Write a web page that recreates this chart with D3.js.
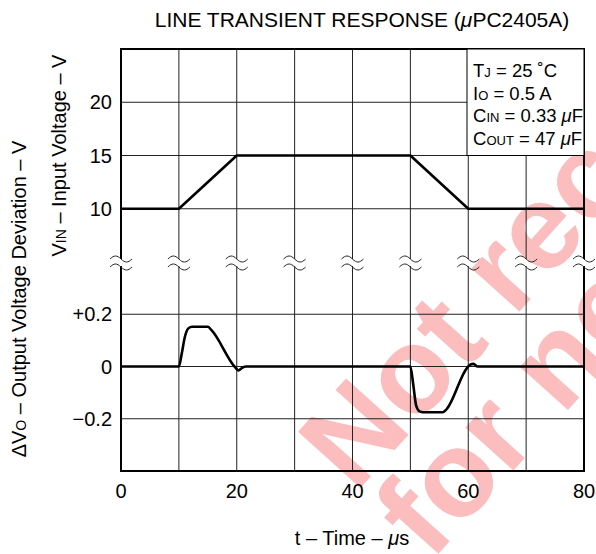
<!DOCTYPE html>
<html>
<head>
<meta charset="utf-8">
<script src="https://cdn.jsdelivr.net/npm/d3@7"></script>
<style>
  body { margin: 0; background: #fff; }
  svg { display: block; font-family: "Liberation Sans", Arial, sans-serif; }
</style>
</head>
<body>
<svg id="chart" width="596" height="554"></svg>
<script>
// tick values / labels
const timeTicks = [0, 20, 40, 60, 80];
const timeGrid = [10, 20, 30, 40, 50, 60, 70];
const vinTicks = [10, 15, 20];
const dvoTicks = [0.2, 0, -0.2];
const dvoTickLabels = ["+0.2", "0", "\u22120.2"];

// input voltage step
const vinTime = [0, 10, 20, 50, 60, 80];
const vinValues = [10, 10, 15, 15, 10, 10];

// output voltage deviation
const dvoTime = [0, 10, 10.5, 11, 11.6, 12.3, 15, 15.6, 19.8, 20.3, 21, 21.6,
                 50, 50.5, 51, 51.6, 52.2, 55.6, 56.2, 59.8, 60.4, 60.9, 61.6, 80];
const dvoValues = [0, 0, 0.05, 0.11, 0.145, 0.152, 0.152, 0.14, -0.005, -0.015, -0.004, 0,
                   0, -0.07, -0.15, -0.172, -0.175, -0.175, -0.165, -0.005, 0.008, 0.01, 0, 0];

const conditions = [
    ["T", "J", " = 25 \u02DAC"],
    ["I", "O", " = 0.5 A"],
    ["C", "IN", " = 0.33 ", "F"],
    ["C", "OUT", " = 47 ", "F"]
];

const watermarkLines = ["Not recommended", "for new design"];

const plotL = 121, plotR = 584, plotT = 49, plotB = 471, breakY = 262;

const svg = d3.select("#chart");

const x = d3.scaleLinear().domain([0, 80]).range([plotL, plotR]);
const yVin = d3.scaleLinear().domain([5, 25]).range([breakY, plotT]);
const yDvo = d3.scaleLinear().domain([-0.4, 0.4]).range([plotB, breakY]);

// watermark behind everything
const wm = svg.append("g")
    .attr("transform", "translate(355,494) rotate(-48)")
    .attr("fill", "#fbbdbd")
    .style("font-weight", "bold")
    .style("font-size", "122px");
wm.selectAll("text")
    .data(watermarkLines)
    .join("text")
    .attr("x", 0)
    .attr("y", (d, i) => i * 102)
    .text(d => d);

// horizontal grid
const grid = svg.append("g").attr("stroke", "#222").attr("stroke-width", 1);
grid.selectAll("line.hv")
    .data(vinTicks)
    .join("line")
    .attr("x1", plotL).attr("x2", plotR)
    .attr("y1", d => yVin(d)).attr("y2", d => yVin(d));
grid.selectAll("line.hd")
    .data(dvoTicks)
    .join("line")
    .attr("x1", plotL).attr("x2", plotR)
    .attr("y1", d => yDvo(d)).attr("y2", d => yDvo(d));

// vertical grid, broken at the axis break
const gapTop = breakY - 3, gapBottom = breakY + 4;
grid.selectAll("line.vu")
    .data(timeGrid)
    .join("line")
    .attr("x1", d => x(d)).attr("x2", d => x(d))
    .attr("y1", plotT).attr("y2", gapTop);
grid.selectAll("line.vl")
    .data(timeGrid)
    .join("line")
    .attr("x1", d => x(d)).attr("x2", d => x(d))
    .attr("y1", gapBottom).attr("y2", plotB);

// frame
const frame = svg.append("g").attr("stroke", "#000").attr("stroke-width", 2).attr("fill", "none");
frame.append("path")
    .attr("d", `M${plotL},${gapTop}V${plotT}H${plotR}V${gapTop}`);
frame.append("path")
    .attr("d", `M${plotL},${gapBottom}V${plotB}H${plotR}V${gapBottom}`);

// break marks
const wave = "M-11,0 C-7,-4 -4,-4 0,0 C4,4 7,4 11,0";
svg.append("g")
    .selectAll("g")
    .data([0].concat(timeGrid, [80]))
    .join("g")
    .attr("transform", d => `translate(${x(d)},0)`)
    .each(function () {
        const g = d3.select(this);
        g.append("path").attr("d", wave).attr("transform", `translate(0,${gapTop})`);
        g.append("path").attr("d", wave).attr("transform", `translate(0,${gapBottom + 1})`);
    })
    .selectAll("path")
    .attr("fill", "none").attr("stroke", "#222").attr("stroke-width", 1);

// conditions box
const box = svg.append("g");
box.append("rect")
    .attr("x", 467).attr("y", plotT)
    .attr("width", plotR - 467).attr("height", yVin(15) - plotT)
    .attr("fill", "#fff").attr("stroke", "#000").attr("stroke-width", 1);
box.selectAll("text")
    .data(conditions)
    .join("text")
    .attr("x", 473)
    .attr("y", (d, i) => 77 + i * 22.7)
    .style("font-size", "18.5px")
    .each(function (d) {
        const t = d3.select(this);
        t.append("tspan").text(d[0]);
        t.append("tspan").style("font-size", "13px").text(d[1]);
        t.append("tspan").text(d[2]);
        if (d[3]) {
            t.append("tspan").style("font-style", "italic").text("\u03BC");
            t.append("tspan").text(d[3]);
        }
    });

// data lines
const vinLine = d3.line()
    .x((d, i) => x(vinTime[i]))
    .y(d => yVin(d));
svg.append("path")
    .attr("d", vinLine(vinValues))
    .attr("fill", "none").attr("stroke", "#000").attr("stroke-width", 2.6)
    .attr("stroke-linejoin", "round");

const dvoLine = d3.line()
    .x((d, i) => x(dvoTime[i]))
    .y(d => yDvo(d))
    .curve(d3.curveMonotoneX);
svg.append("path")
    .attr("d", dvoLine(dvoValues))
    .attr("fill", "none").attr("stroke", "#000").attr("stroke-width", 2.6)
    .attr("stroke-linejoin", "round");

// tick labels
svg.append("g")
    .selectAll("text")
    .data(timeTicks)
    .join("text")
    .attr("x", d => x(d))
    .attr("y", 498)
    .attr("text-anchor", "middle")
    .style("font-size", "20px")
    .text(d => d);

svg.append("g")
    .selectAll("text")
    .data(vinTicks)
    .join("text")
    .attr("x", 112)
    .attr("y", d => yVin(d) + 7)
    .attr("text-anchor", "end")
    .style("font-size", "20px")
    .text(d => d);

svg.append("g")
    .selectAll("text")
    .data(dvoTicks)
    .join("text")
    .attr("x", 112)
    .attr("y", d => yDvo(d) + 7)
    .attr("text-anchor", "end")
    .style("font-size", "20px")
    .text((d, i) => dvoTickLabels[i]);

// title
const title = svg.append("text")
    .attr("x", 362).attr("y", 27)
    .attr("text-anchor", "middle")
    .style("font-size", "21px");
title.append("tspan").text("LINE TRANSIENT RESPONSE (");
title.append("tspan").style("font-style", "italic").text("\u03BC");
title.append("tspan").text("PC2405A)");

// x axis title
const xt = svg.append("text")
    .attr("x", 352).attr("y", 545)
    .attr("text-anchor", "middle")
    .style("font-size", "20px");
xt.append("tspan").text("t \u2013 Time \u2013 ");
xt.append("tspan").style("font-style", "italic").text("\u03BC");
xt.append("tspan").text("s");

// y axis titles
const vt = svg.append("text")
    .attr("transform", `translate(66,${(plotT + breakY) / 2}) rotate(-90)`)
    .attr("text-anchor", "middle")
    .style("font-size", "20px");
vt.append("tspan").text("V");
vt.append("tspan").style("font-size", "14px").text("IN");
vt.append("tspan").text(" \u2013 Input Voltage \u2013 V");

const dt = svg.append("text")
    .attr("transform", "translate(26,299) rotate(-90)")
    .attr("text-anchor", "middle")
    .style("font-size", "20px");
dt.append("tspan").text("\u0394V");
dt.append("tspan").style("font-size", "14px").text("O");
dt.append("tspan").text(" \u2013 Output Voltage Deviation \u2013 V");
</script>
</body>
</html>
